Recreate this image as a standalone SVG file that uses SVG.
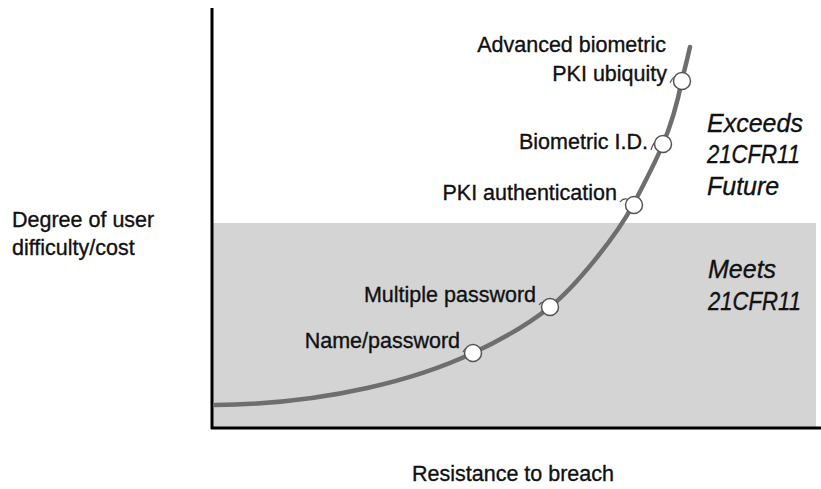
<svg xmlns="http://www.w3.org/2000/svg" width="821" height="489" viewBox="0 0 821 489">
<style>
.lbl{font-family:"Liberation Sans",Arial,sans-serif;font-size:21.5px;fill:#111;stroke:#111;stroke-width:0.35}
.it{font-family:"Liberation Sans",Arial,sans-serif;font-size:25px;font-style:italic;fill:#111;stroke:#111;stroke-width:0.35}
.axis{stroke:#000;stroke-width:3;fill:none}
.curve{stroke:#6e6e6e;stroke-width:4.5;fill:none;stroke-linecap:round}
.pt{fill:#fff;stroke:#555;stroke-width:1.5}
.lead{stroke:#555;stroke-width:1.2;fill:none}
</style>
<rect id="zone" x="213" y="223" width="603" height="205" fill="#d4d4d4"/>
<g id="axes">
<line class="axis" x1="212" y1="8" x2="212" y2="429"/>
<line class="axis" x1="211" y1="428" x2="821" y2="428"/>
</g>
<g id="connectors">
<path class="curve" d="M215,405 C330,404 420,378 473,353 C503,339 530,323 550,307 C575,287 615,238 633,205 C643,186 655,163 663,144 C671,125 678,100 682,80 C685,68 688,56 690,47"/>
<path class="lead" d="M670,83 Q672,78 676,76"/>
<path class="lead" d="M651,150 Q653,143 657,140"/>
<path class="lead" d="M620,202 Q623,198 627,199"/>
<path class="lead" d="M539,305 Q541,302 544,302"/>
<path class="lead" d="M463,352 Q465,348 468,348"/>
</g>
<g id="n-name"><circle class="pt" cx="473" cy="353" r="8.5"/><text class="lbl" x="460" y="348" text-anchor="end">Name/password</text></g>
<g id="n-multi"><circle class="pt" cx="550" cy="307" r="8.5"/><text class="lbl" x="536" y="302" text-anchor="end">Multiple password</text></g>
<g id="n-pki"><circle class="pt" cx="634" cy="205" r="8.5"/><text class="lbl" x="617" y="200" text-anchor="end">PKI authentication</text></g>
<g id="n-bio"><circle class="pt" cx="663" cy="144" r="8.5"/><text class="lbl" x="648" y="149" text-anchor="end">Biometric I.D.</text></g>
<g id="n-adv"><circle class="pt" cx="682" cy="81" r="8.5"/><text class="lbl" x="666" y="52" text-anchor="end">Advanced biometric</text><text class="lbl" x="667" y="81" text-anchor="end">PKI ubiquity</text></g>
<g id="exceeds"><text class="it" x="707" y="132">Exceeds</text><text class="it" x="707" y="163" textLength="93" lengthAdjust="spacingAndGlyphs">21CFR11</text><text class="it" x="707" y="195">Future</text></g>
<g id="meets"><text class="it" x="708" y="278">Meets</text><text class="it" x="708" y="310" textLength="93" lengthAdjust="spacingAndGlyphs">21CFR11</text></g>
<g id="ylabel"><text class="lbl" x="12" y="227">Degree of user</text><text class="lbl" x="12" y="255">difficulty/cost</text></g>
<g id="xlabel"><text class="lbl" x="412" y="481">Resistance to breach</text></g>
</svg>
